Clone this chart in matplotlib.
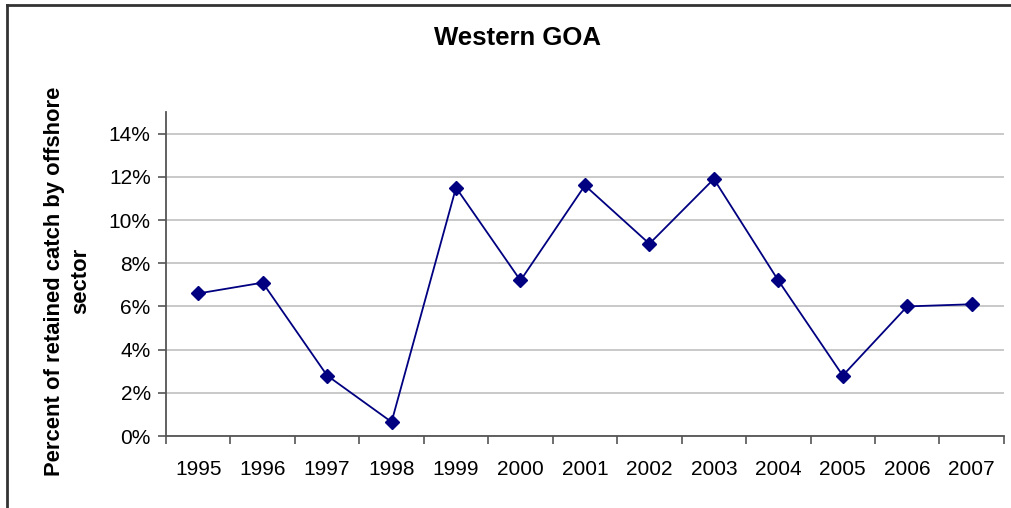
import matplotlib
matplotlib.use("Agg")
import matplotlib.pyplot as plt
from matplotlib.lines import Line2D
from matplotlib.ticker import FuncFormatter, FixedLocator
import numpy as np

# === Daten ===
years = ["1995", "1996", "1997", "1998", "1999", "2000", "2001",
         "2002", "2003", "2004", "2005", "2006", "2007"]
pct_offshore = [6.6, 7.1, 2.8, 0.65, 11.5, 7.2, 11.6, 8.9, 11.9, 7.2, 2.8, 6.0, 6.1]

plt.rcParams['font.family'] = ['Liberation Sans', 'DejaVu Sans']

fig = plt.figure(figsize=(10.12, 5.08), dpi=100)
ax = fig.add_axes([0.164, 0.1417, 0.828, 0.6378])

x = np.arange(len(years))
ax.plot(x, pct_offshore, color="#000080", linewidth=1.3, marker="D",
        markersize=7, markerfacecolor="#000080", markeredgecolor="#000080")

ax.set_xlim(-0.5, len(years) - 0.5)
ax.set_ylim(0, 15)
ax.set_yticks(np.arange(0, 15, 2))
ax.yaxis.set_major_formatter(FuncFormatter(lambda v, p: f"{v:.0f}%"))
ax.grid(axis='y', color="#c0c0c0", linewidth=1.2)
ax.set_axisbelow(True)

ax.set_xticks(x)
ax.set_xticklabels(years, fontsize=15)
ax.tick_params(axis='x', length=0, pad=17)
ax.xaxis.set_minor_locator(FixedLocator(np.arange(-0.5, len(years), 1)))
ax.tick_params(axis='x', which='minor', length=6, width=1.2, color="#555555")
ax.tick_params(axis='y', length=6, width=1.2, color="#555555", labelsize=15, pad=5)

for side in ['top', 'right']:
    ax.spines[side].set_visible(False)
for side in ['left', 'bottom']:
    ax.spines[side].set_color("#555555")
    ax.spines[side].set_linewidth(1.3)

fig.text(0.511, 0.925, "Western GOA", ha='center', va='center',
         fontsize=18.5, fontweight='bold')
fig.text(0.0667, 0.447, "Percent of retained catch by offshore\nsector",
         ha='center', va='center', rotation=90, fontsize=15.8,
         fontweight='bold', linespacing=1.3)

# Rahmen (nur links und oben sichtbar)
fig.add_artist(Line2D([7/1012, 7/1012], [0, 1 - 5/508], color="#333333",
                      linewidth=2, transform=fig.transFigure))
fig.add_artist(Line2D([7/1012, 1], [1 - 5/508, 1 - 5/508], color="#333333",
                      linewidth=2, transform=fig.transFigure))

fig.savefig("out.png", dpi=100)
